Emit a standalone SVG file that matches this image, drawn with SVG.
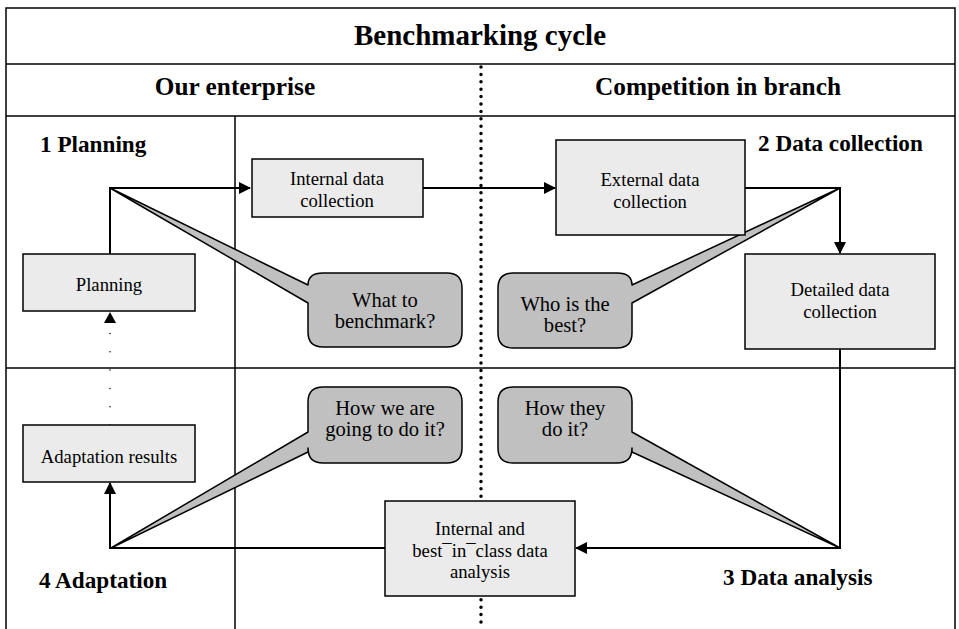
<svg xmlns="http://www.w3.org/2000/svg" width="959" height="629" viewBox="0 0 959 629">
<style>
.frame{stroke:#000;stroke-width:1.5;fill:none}
.box{fill:#ebebeb;stroke:#000;stroke-width:1.5}
.call{fill:#c0c0c0;stroke:#000;stroke-width:1.5;stroke-linejoin:round}
.conn{stroke:#000;stroke-width:2;fill:none}
text{fill:#000;text-anchor:middle}
.bt{font-size:18.7px}
.ct{font-size:20.6px}
.h{font-weight:bold}
.sub{font-size:23.2px}
.l{text-anchor:start}
</style>
<defs>
<marker id="ah" markerWidth="12" markerHeight="12" refX="11" refY="6" orient="auto" markerUnits="userSpaceOnUse">
<path d="M0,0 L12,6 L0,12 Z" fill="#000"/>
</marker>
</defs>
<rect x="0" y="0" width="959" height="629" fill="#fff"/>
<g id="frame">
<path class="frame" d="M6,629 V8 H955 V629"/>
<line class="frame" x1="6" y1="64" x2="955" y2="64"/>
<line class="frame" x1="6" y1="116" x2="955" y2="116"/>
<line class="frame" x1="6" y1="368" x2="955" y2="368"/>
<line class="frame" x1="235" y1="116" x2="235" y2="629"/>
<line x1="481" y1="67" x2="481" y2="629" stroke="#000" stroke-width="3.5" stroke-linecap="round" stroke-dasharray="0 7.4"/>
</g>
<g font-family="'Liberation Serif', 'Times New Roman', serif">
<g id="titles">
<text class="h" x="480" y="45" font-size="29">Benchmarking cycle</text>
<text class="h" x="235" y="95" font-size="25.3">Our enterprise</text>
<text class="h" x="718" y="95" font-size="25.3">Competition in branch</text>
<text class="h l sub" x="40" y="152">1 Planning</text>
<text class="h l sub" x="758" y="151">2 Data collection</text>
<text class="h l sub" x="723" y="585">3 Data analysis</text>
<text class="h l sub" x="39" y="588">4 Adaptation</text>
</g>
<g id="callout-what">
<path class="call" d="M308,285 L110,188 L308,303 V332 Q308,347 323,347 H447 Q462,347 462,332 V288 Q462,273 447,273 H323 Q308,273 308,285 Z"/>
<text class="ct" x="385" y="307">What to</text>
<text class="ct" x="385" y="328">benchmark?</text>
</g>
<g id="callout-who">
<path class="call" d="M632,285 L840,188 L632,303 V333 Q632,348 617,348 H513 Q498,348 498,333 V288 Q498,273 513,273 H617 Q632,273 632,285 Z"/>
<text class="ct" x="565" y="311">Who is the</text>
<text class="ct" x="565" y="332">best?</text>
</g>
<g id="callout-how-they">
<path class="call" d="M632,432 L840,548 L632,452 V448 Q632,463 617,463 H513 Q498,463 498,448 V402 Q498,387 513,387 H617 Q632,387 632,402 Z"/>
<text class="ct" x="565" y="415">How they</text>
<text class="ct" x="565" y="436">do it?</text>
</g>
<g id="callout-how-we">
<path class="call" d="M308,432 L111,548 L308,452 V448 Q308,463 323,463 H447 Q462,463 462,448 V402 Q462,387 447,387 H323 Q308,387 308,402 Z"/>
<text class="ct" x="385" y="415">How we are</text>
<text class="ct" x="385" y="436">going to do it?</text>
</g>
<g id="connectors">
<path class="conn" d="M110,254 V188 H250" marker-end="url(#ah)"/>
<path class="conn" d="M423,188 H555" marker-end="url(#ah)"/>
<path class="conn" d="M745,188 H840 V253" marker-end="url(#ah)"/>
<path class="conn" d="M840,349 V548 H576" marker-end="url(#ah)"/>
<path class="conn" d="M385,548 H110 V483" marker-end="url(#ah)"/>
<line x1="110" y1="425" x2="110" y2="330" stroke="#000" stroke-width="1.5" stroke-linecap="round" stroke-dasharray="0 18.3"/>
<path d="M104,323 L110,312 L116,323 Z" fill="#000"/>
</g>
<g id="node-internal">
<rect class="box" x="252" y="159" width="171" height="58"/>
<text class="bt" x="337" y="185">Internal data</text>
<text class="bt" x="337" y="207">collection</text>
</g>
<g id="node-external">
<rect class="box" x="556" y="140" width="189" height="95"/>
<text class="bt" x="650" y="186">External data</text>
<text class="bt" x="650" y="208">collection</text>
</g>
<g id="node-detailed">
<rect class="box" x="745" y="254" width="190" height="95"/>
<text class="bt" x="840" y="296">Detailed data</text>
<text class="bt" x="840" y="318">collection</text>
</g>
<g id="node-planning">
<rect class="box" x="23" y="254" width="172" height="57"/>
<text class="bt" x="109" y="291">Planning</text>
</g>
<g id="node-adaptation">
<rect class="box" x="23" y="425" width="172" height="57"/>
<text class="bt" x="109" y="463">Adaptation results</text>
</g>
<g id="node-analysis">
<rect class="box" x="385" y="501" width="190" height="95"/>
<text class="bt" x="480" y="535">Internal and</text>
<text class="bt" x="480" y="557">best¯in¯class data</text>
<text class="bt" x="480" y="578">analysis</text>
</g>
</g>
</svg>
